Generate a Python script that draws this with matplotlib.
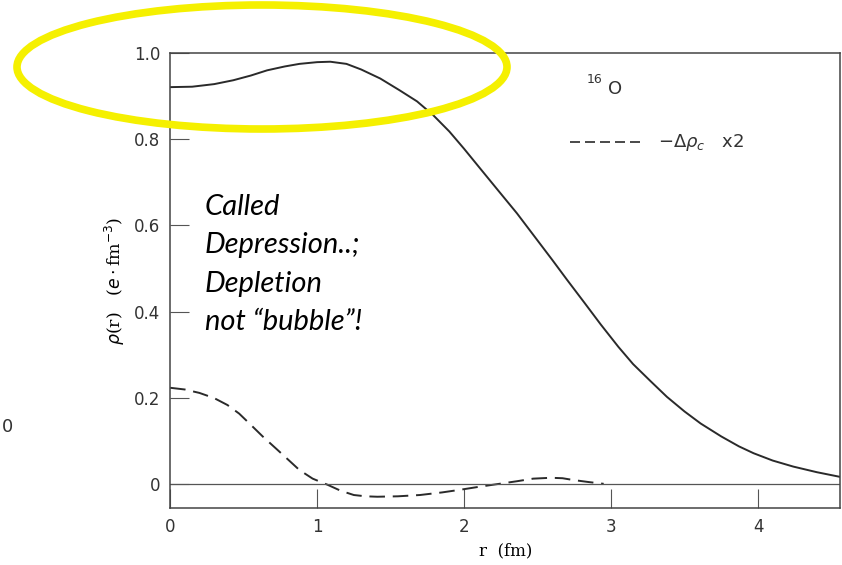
import matplotlib
matplotlib.use('Agg')
import matplotlib.pyplot as plt
from matplotlib.patches import Ellipse

# values
r_total = [0.0, 0.15, 0.3, 0.43, 0.55, 0.66, 0.78, 0.88, 1.0, 1.09, 1.2, 1.3, 1.43, 1.56,
           1.68, 1.79, 1.9, 2.0, 2.11, 2.23, 2.36, 2.5, 2.6, 2.7, 2.82, 2.93, 3.05, 3.15,
           3.27, 3.38, 3.5, 3.61, 3.75, 3.87, 3.97, 4.1, 4.24, 4.4, 4.56]
rho_total = [0.921, 0.922, 0.928, 0.937, 0.948, 0.960, 0.969, 0.975, 0.979, 0.980, 0.975,
             0.962, 0.941, 0.914, 0.888, 0.856, 0.818, 0.778, 0.732, 0.682, 0.628, 0.565,
             0.520, 0.474, 0.420, 0.370, 0.318, 0.278, 0.238, 0.202, 0.168, 0.140, 0.110,
             0.087, 0.071, 0.054, 0.040, 0.027, 0.016]

r_delta = [0.0, 0.1, 0.2, 0.3, 0.39, 0.47, 0.54, 0.63, 0.73, 0.81, 0.88, 0.97, 1.07, 1.16,
           1.25, 1.33, 1.41, 1.55, 1.7, 1.85, 1.97, 2.1, 2.24, 2.36, 2.47, 2.59, 2.67, 2.74,
           2.85, 2.95]
rho_delta = [0.223, 0.219, 0.211, 0.199, 0.183, 0.163, 0.140, 0.110, 0.079, 0.054, 0.032,
             0.012, -0.002, -0.016, -0.026, -0.029, -0.030, -0.029, -0.026, -0.020, -0.014,
             -0.007, 0.0, 0.006, 0.012, 0.014, 0.013, 0.009, 0.004, 0.0]

note_lines = ['Called', 'Depression..;', 'Depletion', 'not \u201cbubble\u201d!']

ink = '#2a2a2a'

fig = plt.figure(figsize=(8.42, 5.65), dpi=100)
ax = fig.add_axes([0.202, 0.101, 0.796, 0.805])

ax.plot(r_total, rho_total, color=ink, lw=1.4)
ax.plot(r_delta, rho_delta, color=ink, lw=1.4, dashes=(8, 4))
ax.axhline(0, color='#555555', lw=0.9)

ax.set_xlim(0, 4.56)
ax.set_ylim(-0.056, 1.0)

ax.set_xticks([0, 1, 2, 3, 4])
ax.set_xticklabels(['0', '1', '2', '3', '4'])
ax.set_yticks([0, 0.2, 0.4, 0.6, 0.8, 1.0])
ax.set_yticklabels(['0', '0.2', '0.4', '0.6', '0.8', '1.0'])
ax.tick_params(direction='in', length=14, width=0.8, color='#555555',
               labelsize=12, labelcolor='#333333', pad=7)
for s in ax.spines.values():
    s.set_color('#444444')
    s.set_linewidth(1.1)

ax.set_xlabel('r  (fm)', family='DejaVu Serif', fontsize=12, labelpad=5)
ax.set_ylabel(r'$\rho$(r)   ($e\cdot$fm$^{-3}$)', family='DejaVu Serif', fontsize=12.5,
              labelpad=5)

# inset labels from the original figure
fig.text(0.697, 0.853, '16', fontsize=9, color='#333333')
fig.text(0.722, 0.833, 'O', fontsize=13, color='#333333')
ax.plot([0.677, 0.764], [0.748, 0.748], transform=fig.transFigure, color=ink, lw=1.2,
        dashes=(6, 3), clip_on=False)
fig.text(0.782, 0.748, r'$-\Delta\rho_c$   x2', fontsize=13, color='#333333', va='center')

# stray "0" from the neighbouring panel
fig.text(0.002, 0.236, '0', fontsize=13, color='#333333')

# annotation
for i, line in enumerate(note_lines):
    fig.text(0.243, 1 - (207 + 38.5 * i) / 565, line, fontsize=21, style='italic',
             family='Lato', va='center', color='black')

# yellow highlight ellipse
fig.patches.append(Ellipse((262 / 842, 1 - 67 / 565), 490 / 842, 124 / 565,
                           transform=fig.transFigure, fill=False,
                           edgecolor='#f5f000', lw=5.5))

fig.savefig('out.png', dpi=100)
